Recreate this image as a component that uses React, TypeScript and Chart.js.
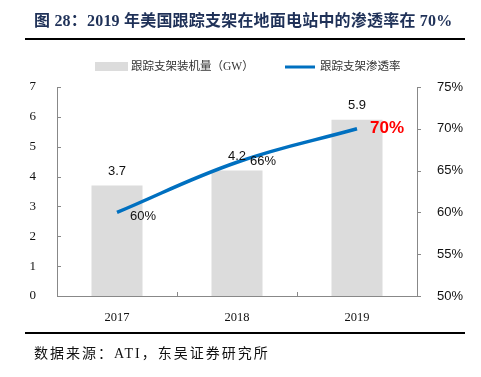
import React, { useEffect, useRef } from "react";
import { Chart, registerables } from "chart.js";

Chart.register(...registerables);

const categories = ["2017", "2018", "2019"];
const capacityGW = [3.7, 4.2, 5.9];
const penetration = [60, 66, 70];
const leftTicks = [0, 1, 2, 3, 4, 5, 6, 7];
const rightTicks = [50, 55, 60, 65, 70, 75];

const titleText = "图 28：2019 年美国跟踪支架在地面电站中的渗透率在 70%";
const sourceText = "数据来源：ATI，东吴证券研究所";
const barLabel = "跟踪支架装机量（GW）";
const lineLabel = "跟踪支架渗透率";

const SERIF = '"Liberation Serif", "Times New Roman", "Noto Sans CJK SC", serif';
const SANS = '"Liberation Sans", Arial, "Noto Sans CJK SC", sans-serif';
const CJK = '"Liberation Serif", "Noto Sans CJK SC", serif';

const decor = {
  id: "decor",
  afterDraw(chart: any) {
    const ctx = chart.ctx;
    const ca = chart.chartArea;
    const y = chart.scales.y;
    const y1 = chart.scales.y1;
    ctx.save();
    // title
    ctx.fillStyle = "#1f3158";
    ctx.font = "bold 16px " + CJK;
    ctx.textAlign = "left";
    ctx.textBaseline = "middle";
    (ctx as any).letterSpacing = "0.2px";
    ctx.fillText(titleText, 34, 22);
    // rules
    ctx.fillStyle = "#000";
    ctx.fillRect(25, 38, 440, 2);
    ctx.fillRect(25, 332, 440, 2);
    // source
    ctx.font = "14px " + CJK;
    ctx.fillStyle = "#111";
    (ctx as any).letterSpacing = "2px";
    ctx.fillText(sourceText, 34, 354);
    (ctx as any).letterSpacing = "0px";

    // tick marks
    ctx.strokeStyle = "#888";
    ctx.lineWidth = 1;
    ctx.beginPath();
    leftTicks.forEach((v) => {
      const py = Math.round(y.getPixelForValue(v)) + 0.5;
      ctx.moveTo(ca.left, py);
      ctx.lineTo(ca.left + 4, py);
    });
    rightTicks.forEach((v) => {
      const py = Math.round(y1.getPixelForValue(v)) + 0.5;
      ctx.moveTo(ca.right, py);
      ctx.lineTo(ca.right + 4, py);
    });
    const step = (ca.right - ca.left) / categories.length;
    for (let i = 0; i <= categories.length; i++) {
      const px = Math.round(ca.left + i * step) + 0.5;
      ctx.moveTo(px, ca.bottom);
      ctx.lineTo(px, ca.bottom - 4);
    }
    ctx.stroke();

    // legend
    ctx.fillStyle = "#dcdcdc";
    ctx.fillRect(95, 62, 33, 9);
    ctx.fillStyle = "#333";
    ctx.font = "11.5px " + CJK;
    ctx.textBaseline = "middle";
    ctx.fillText(barLabel, 131, 67);
    ctx.strokeStyle = "#0070c0";
    ctx.lineWidth = 3;
    ctx.beginPath();
    ctx.moveTo(285, 67);
    ctx.lineTo(315, 67);
    ctx.stroke();
    ctx.fillText(lineLabel, 320, 67);

    // data labels
    const barMeta = chart.getDatasetMeta(0);
    ctx.fillStyle = "#111";
    ctx.font = "13px " + SANS;
    ctx.textAlign = "center";
    barMeta.data.forEach((el: any, i: number) => {
      ctx.fillText(String(capacityGW[i]), el.x, el.y - 14);
    });
    const lineMeta = chart.getDatasetMeta(1);
    ctx.textAlign = "left";
    lineMeta.data.forEach((el: any, i: number) => {
      const last = i === penetration.length - 1;
      if (last) {
        ctx.fillStyle = "#ff0000";
        ctx.font = "bold 17px " + SANS;
        ctx.fillText(penetration[i] + "%", el.x + 13, el.y);
      } else {
        ctx.fillStyle = "#111";
        ctx.font = "13px " + SANS;
        ctx.fillText(penetration[i] + "%", el.x + 13, el.y + (i === 0 ? 4 : -1));
      }
    });
    ctx.restore();
  },
};

export default function App() {
  const ref = useRef<HTMLCanvasElement>(null);
  useEffect(() => {
    document.body.style.margin = "0";
    const chart = new Chart(ref.current as HTMLCanvasElement, {
      type: "bar",
      data: {
        labels: categories,
        datasets: [
          {
            type: "bar",
            label: barLabel,
            data: capacityGW,
            backgroundColor: "#dcdcdc",
            yAxisID: "y",
            barPercentage: 0.425,
            categoryPercentage: 1,
            order: 2,
          },
          {
            type: "line",
            label: lineLabel,
            data: penetration,
            borderColor: "#0070c0",
            borderWidth: 3.5,
            pointRadius: 0,
            tension: 0.4,
            yAxisID: "y1",
            order: 1,
          } as any,
        ],
      },
      options: {
        responsive: false,
        animation: false,
        layout: { padding: { top: 87, bottom: 51, left: 0, right: 0 } },
        plugins: { legend: { display: false }, tooltip: { enabled: false } },
        scales: {
          x: {
            grid: { display: false },
            border: { display: true, color: "#888" },
            ticks: { color: "#111", font: { family: SERIF, size: 12.5 }, padding: 6 },
            afterFit: (s: any) => { s.height = 30; },
          },
          y: {
            position: "left",
            min: 0,
            max: 7,
            grid: { display: false },
            border: { display: true, color: "#888" },
            ticks: { stepSize: 1, color: "#111", font: { family: SERIF, size: 13 }, padding: 13 },
            afterFit: (s: any) => { s.width = 57; },
          },
          y1: {
            position: "right",
            min: 50,
            max: 75,
            grid: { display: false },
            border: { display: true, color: "#888" },
            ticks: {
              stepSize: 5,
              color: "#111",
              font: { family: SANS, size: 13 },
              padding: 12,
              callback: (v: any) => v + "%",
            },
            afterFit: (s: any) => { s.width = 64; },
          },
        },
      },
      plugins: [decor],
    });
    return () => chart.destroy();
  }, []);
  return (
    <div style={{ width: 481, height: 377, background: "#fff" }}>
      <canvas ref={ref} width={481} height={377} style={{ width: 481, height: 377, display: "block" }} />
    </div>
  );
}
